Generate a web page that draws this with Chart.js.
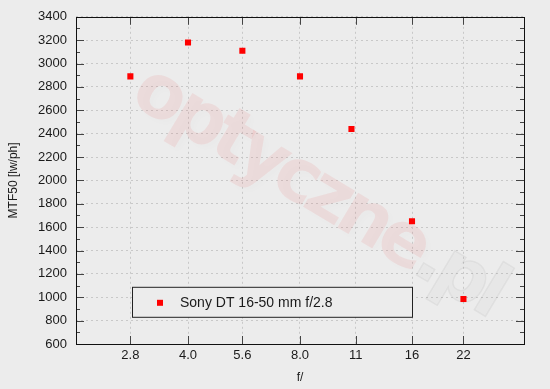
<!DOCTYPE html>
<html>
<head>
<meta charset="utf-8">
<script src="https://cdn.jsdelivr.net/npm/chart.js@4.4.0/dist/chart.umd.min.js"></script>
<style>
  html,body{margin:0;padding:0;background:#ececec}
  #wrap{width:550px;height:389px;position:relative}
</style>
</head>
<body>
<div id="wrap"><canvas id="chart"></canvas></div>
<script>
// data
const fStops = [2.8, 4, 5.6, 8, 11, 16, 22];
const mtf50 = [2890, 3180, 3110, 2890, 2440, 1650, 985];
const tickValues = [2.8, 4, 5.6, 8, 11.3, 16, 22];
const tickLabels = ['2.8', '4.0', '5.6', '8.0', '11', '16', '22'];
const seriesName = 'Sony DT 16-50 mm f/2.8';

const FONT = '"Liberation Sans", Arial, sans-serif';
const TEXT = '#1a1a1a';

// frame, inward ticks, legend box and watermark
const decor = {
  id: 'decor',
  beforeDatasetsDraw(chart){
    const {ctx, chartArea:a} = chart;
    ctx.save();
    ctx.beginPath();
    ctx.rect(a.left, a.top, a.right - a.left, a.bottom - a.top);
    ctx.clip();
    ctx.translate(a.left + 241, a.top + 175);
    ctx.rotate(31 * Math.PI / 180);
    ctx.font = 'bold 74px "DejaVu Sans"';
    ctx.letterSpacing = '-6px';
    ctx.textBaseline = 'alphabetic';
    const w1 = ctx.measureText('optyczne').width;
    const w2 = ctx.measureText('.pl').width;
    const x0 = -(w1 + w2) / 2;
    ctx.shadowColor = 'rgba(0,0,0,0.07)';
    ctx.shadowBlur = 6;
    ctx.shadowOffsetX = 4;
    ctx.shadowOffsetY = 4;
    ctx.fillStyle = 'rgba(235,120,120,0.14)';
    ctx.fillText('optyczne', x0, 20);
    ctx.fillStyle = 'rgba(0,0,0,0.02)';
    ctx.fillText('.pl', x0 + w1, 20);
    ctx.shadowColor = 'transparent';
    ctx.strokeStyle = 'rgba(0,0,0,0.05)';
    ctx.lineWidth = 1.5;
    ctx.strokeText('.pl', x0 + w1, 20);
    ctx.restore();
  },
  afterDraw(chart){
    const {ctx, chartArea:a, scales:{x, y}} = chart;
    ctx.save();
    ctx.strokeStyle = '#444';
    ctx.lineWidth = 1;
    ctx.beginPath();
    // x ticks, bottom and top
    x.ticks.forEach(t => {
      const px = Math.round(x.getPixelForValue(t.value)) + 0.5;
      ctx.moveTo(px, a.bottom); ctx.lineTo(px, a.bottom - 8);
      ctx.moveTo(px, a.top); ctx.lineTo(px, a.top + 8);
    });
    // y major + minor ticks, left and right
    for(let v = y.min; v <= y.max; v += 100){
      const py = Math.round(y.getPixelForValue(v)) + 0.5;
      const len = (v % 200 === 0) ? 8 : 4;
      ctx.moveTo(a.left, py); ctx.lineTo(a.left + len, py);
      ctx.moveTo(a.right, py); ctx.lineTo(a.right - len, py);
    }
    ctx.stroke();
    ctx.strokeStyle = '#111';
    ctx.strokeRect(Math.round(a.left) + 0.5, Math.round(a.top) + 0.5,
      Math.round(a.right - a.left), Math.round(a.bottom - a.top));

    // legend box inside the plot
    const ds = chart.data.datasets[0];
    const bx = a.left + 56.5, by = a.top + 270.5, bw = 280, bh = 30;
    ctx.fillStyle = '#ececec';
    ctx.fillRect(bx, by, bw, bh);
    ctx.strokeStyle = '#222';
    ctx.strokeRect(bx, by, bw, bh);
    ctx.fillStyle = ds.backgroundColor;
    ctx.fillRect(bx + 24.5, by + 12.5, 6, 6);
    ctx.fillStyle = TEXT;
    ctx.font = '14px ' + FONT;
    ctx.textBaseline = 'middle';
    ctx.fillText(ds.label, bx + 47.5, by + 15.5);
    ctx.restore();
  }
};

new Chart(document.getElementById('chart'), {
  type: 'scatter',
  data: {
    datasets: [{
      label: seriesName,
      data: fStops.map((f, i) => ({x: f, y: mtf50[i]})),
      backgroundColor: '#ff0000',
      borderWidth: 0,
      pointStyle: 'rect',
      pointRadius: 4.3,
      pointHoverRadius: 4.3
    }]
  },
  options: {
    responsive: true,
    maintainAspectRatio: false,
    animation: false,
    events: [],
    layout: {padding: {left: 0, top: 15, right: 26, bottom: 0}},
    plugins: {legend: {display: false}, tooltip: {enabled: false}},
    scales: {
      x: {
        type: 'logarithmic',
        min: 2,
        max: 32,
        afterBuildTicks: s => { s.ticks = tickValues.map(v => ({value: v})); },
        afterFit: s => { s.height = 45; },
        grid: {color: '#c8c8c8', drawTicks: false},
        border: {display: false, dash: [2, 3]},
        ticks: {
          autoSkip: false, maxRotation: 0, padding: 4,
          color: TEXT, font: {family: FONT, size: 13},
          callback: (v, i) => tickLabels[i]
        },
        title: {display: true, text: 'f/', color: TEXT, font: {family: FONT, size: 12}, padding: {top: 0, bottom: 4}}
      },
      y: {
        min: 600,
        max: 3400,
        afterFit: s => { s.width = 76; },
        grid: {color: '#c8c8c8', drawTicks: false},
        border: {display: false, dash: [2, 3]},
        ticks: {
          stepSize: 200, padding: 9,
          color: TEXT, font: {family: FONT, size: 13},
          callback: v => String(v)
        },
        title: {display: true, text: 'MTF50 [lw/ph]', color: TEXT, font: {family: FONT, size: 12}, padding: {top: 6, bottom: 0}}
      }
    }
  },
  plugins: [decor]
});
</script>
</body>
</html>
